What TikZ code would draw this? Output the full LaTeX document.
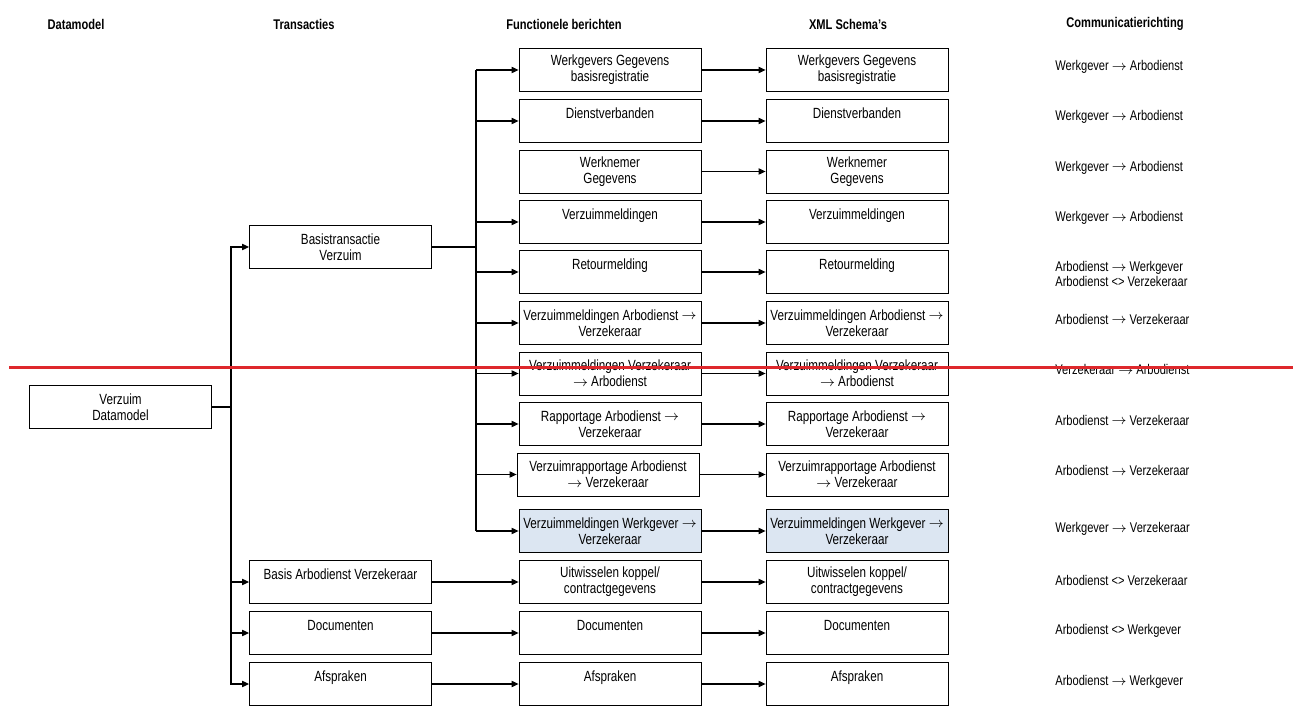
\documentclass[tikz,border=0pt]{standalone}
\usepackage{fontspec}
\setmainfont{Liberation Sans}[FakeStretch=0.79]
\usetikzlibrary{arrows.meta, positioning}
\definecolor{msgblue}{RGB}{220,230,242}
\definecolor{markred}{RGB}{222,40,44}
\newcommand{\dirarrow}{\raisebox{0.05ex}{$\rightarrow$}}
\tikzstyle{box} = [rectangle, draw=black, line width=0.5pt, minimum width=3.64cm, minimum height=0.86cm, inner sep=1pt, align=center, font=\fontsize{8.4}{9}\selectfont, fill=white]
\tikzstyle{newbox} = [box, fill=msgblue]
\tikzstyle{header} = [font=\fontsize{8}{9}\selectfont\bfseries]
\tikzstyle{direction} = [anchor=west, align=left, inner sep=0pt, font=\fontsize{8}{7}\selectfont]
\tikzstyle{arrow} = [line width=0.6pt, -{Triangle[length=4pt,width=3.6pt]}]
\tikzstyle{trunk} = [line width=1.3pt]

\begin{document}
\begin{tikzpicture}[x=0.02cm, y=-0.02cm]
\useasboundingbox (0,0) rectangle (1300,715);
% Headers
\node (hdm) [header] at (76,24) {Datamodel};
\node (htr) [header] at (304,24) {Transacties};
\node (hfb) [header] at (564,24) {Functionele berichten};
\node (hxs) [header] at (848,24) {XML Schema's};
\node (hcr) [header] at (1125,24) {Communicatierichting};
% Datamodel
\node (dm) [box] at (120.5,407) {Verzuim\\Datamodel};
% Transacties
\node (bt) [box] at (340.5,247) {Basistransactie\\Verzuim};
\node (ba) [box] at (340.5,582) {Basis Arbodienst Verzekeraar\\~};
\node (doc) [box] at (340.5,633) {Documenten\\~};
\node (afs) [box] at (340.5,684) {Afspraken\\~};
% Functionele berichten
\node (fb1) [box] at (610,70) {Werkgevers Gegevens\\basisregistratie};
\node (fb2) [box] at (610,121) {Dienstverbanden\\~};
\node (fb3) [box] at (610,171.5) {Werknemer\\Gegevens};
\node (fb4) [box] at (610,222) {Verzuimmeldingen\\~};
\node (fb5) [box] at (610,272) {Retourmelding\\~};
\node (fb6) [box] at (610,323) {Verzuimmeldingen Arbodienst \dirarrow\\Verzekeraar};
\node (fb7) [box] at (610,373.5) {Verzuimmeldingen Verzekeraar\\\dirarrow{} Arbodienst};
\node (fb8) [box] at (610,424) {Rapportage Arbodienst \dirarrow\\Verzekeraar};
\node (fb9) [box] at (608,474.5) {Verzuimrapportage Arbodienst\\\dirarrow{} Verzekeraar};
\node (fb10) [newbox] at (610,531) {Verzuimmeldingen Werkgever \dirarrow\\Verzekeraar};
\node (fb11) [box] at (610,582) {Uitwisselen koppel/\\contractgegevens};
\node (fb12) [box] at (610,633) {Documenten\\~};
\node (fb13) [box] at (610,684) {Afspraken\\~};
% XML Schema's
\node (xs1) [box] at (857,70) {Werkgevers Gegevens\\basisregistratie};
\node (xs2) [box] at (857,121) {Dienstverbanden\\~};
\node (xs3) [box] at (857,171.5) {Werknemer\\Gegevens};
\node (xs4) [box] at (857,222) {Verzuimmeldingen\\~};
\node (xs5) [box] at (857,272) {Retourmelding\\~};
\node (xs6) [box] at (857,323) {Verzuimmeldingen Arbodienst \dirarrow\\Verzekeraar};
\node (xs7) [box] at (857,373.5) {Verzuimmeldingen Verzekeraar\\\dirarrow{} Arbodienst};
\node (xs8) [box] at (857,424) {Rapportage Arbodienst \dirarrow\\Verzekeraar};
\node (xs9) [box] at (857,474.5) {Verzuimrapportage Arbodienst\\\dirarrow{} Verzekeraar};
\node (xs10) [newbox] at (857,531) {Verzuimmeldingen Werkgever \dirarrow\\Verzekeraar};
\node (xs11) [box] at (857,582) {Uitwisselen koppel/\\contractgegevens};
\node (xs12) [box] at (857,633) {Documenten\\~};
\node (xs13) [box] at (857,684) {Afspraken\\~};
% Communicatierichting
\node (cr1) [direction] at (1055,67) {Werkgever \dirarrow{} Arbodienst};
\node (cr2) [direction] at (1055,117) {Werkgever \dirarrow{} Arbodienst};
\node (cr3) [direction] at (1055,167.5) {Werkgever \dirarrow{} Arbodienst};
\node (cr4) [direction] at (1055,218) {Werkgever \dirarrow{} Arbodienst};
\node (cr5) [direction] at (1055,274) {Arbodienst \dirarrow{} Werkgever\\Arbodienst <> Verzekeraar};
\node (cr6) [direction] at (1055,319) {Arbodienst \dirarrow{} Verzekeraar};
\node (cr7) [direction] at (1055,369.5) {Verzekeraar \dirarrow{} Arbodienst};
\node (cr8) [direction] at (1055,420) {Arbodienst \dirarrow{} Verzekeraar};
\node (cr9) [direction] at (1055,470.5) {Arbodienst \dirarrow{} Verzekeraar};
\node (cr10) [direction] at (1055,529) {Werkgever \dirarrow{} Verzekeraar};
\node (cr11) [direction] at (1055,580) {Arbodienst <> Verzekeraar};
\node (cr12) [direction] at (1055,631) {Arbodienst <> Werkgever};
\node (cr13) [direction] at (1055,682) {Arbodienst \dirarrow{} Werkgever};

% Datamodel to transacties
\coordinate (t1) at (231,407);
\draw [trunk] (dm) -- (t1);
\draw [arrow] (t1) |- (bt);
\draw [arrow] (t1) |- (ba);
\draw [arrow] (t1) |- (doc);
\draw [arrow] (t1) |- (afs);
% Basistransactie to berichten
\coordinate (t2) at (476,247);
\draw [trunk] (bt) -- (t2);
\draw [trunk] (t2 |- fb1) -- (t2 |- fb9);
\draw [line width=0.6pt] (t2 |- fb9) -- (t2 |- fb10);
\draw [arrow] (t2 |- fb1) -- (fb1);
\draw [arrow] (t2 |- fb2) -- (fb2);
\draw [arrow] (t2 |- fb4) -- (fb4);
\draw [arrow] (t2 |- fb5) -- (fb5);
\draw [arrow] (t2 |- fb6) -- (fb6);
\draw [arrow] (t2 |- fb7) -- (fb7);
\draw [arrow] (t2 |- fb8) -- (fb8);
\draw [arrow] (t2 |- fb9) -- (fb9);
\draw [arrow] (t2 |- fb10) -- (fb10);
% Other transacties
\draw [arrow] (ba) -- (fb11);
\draw [arrow] (doc) -- (fb12);
\draw [arrow] (afs) -- (fb13);
% Berichten to schema's
\draw [arrow] (fb1) -- (xs1);
\draw [arrow] (fb2) -- (xs2);
\draw [arrow] (fb3) -- (xs3);
\draw [arrow] (fb4) -- (xs4);
\draw [arrow] (fb5) -- (xs5);
\draw [arrow] (fb6) -- (xs6);
\draw [arrow] (fb7) -- (xs7);
\draw [arrow] (fb8) -- (xs8);
\draw [arrow] (fb9) -- (xs9);
\draw [arrow] (fb10) -- (xs10);
\draw [arrow] (fb11) -- (xs11);
\draw [arrow] (fb12) -- (xs12);
\draw [arrow] (fb13) -- (xs13);
% Red mark line
\draw [markred, line width=1.4pt] (9,367.5) -- (1293,367.5);
\end{tikzpicture}
\end{document}
